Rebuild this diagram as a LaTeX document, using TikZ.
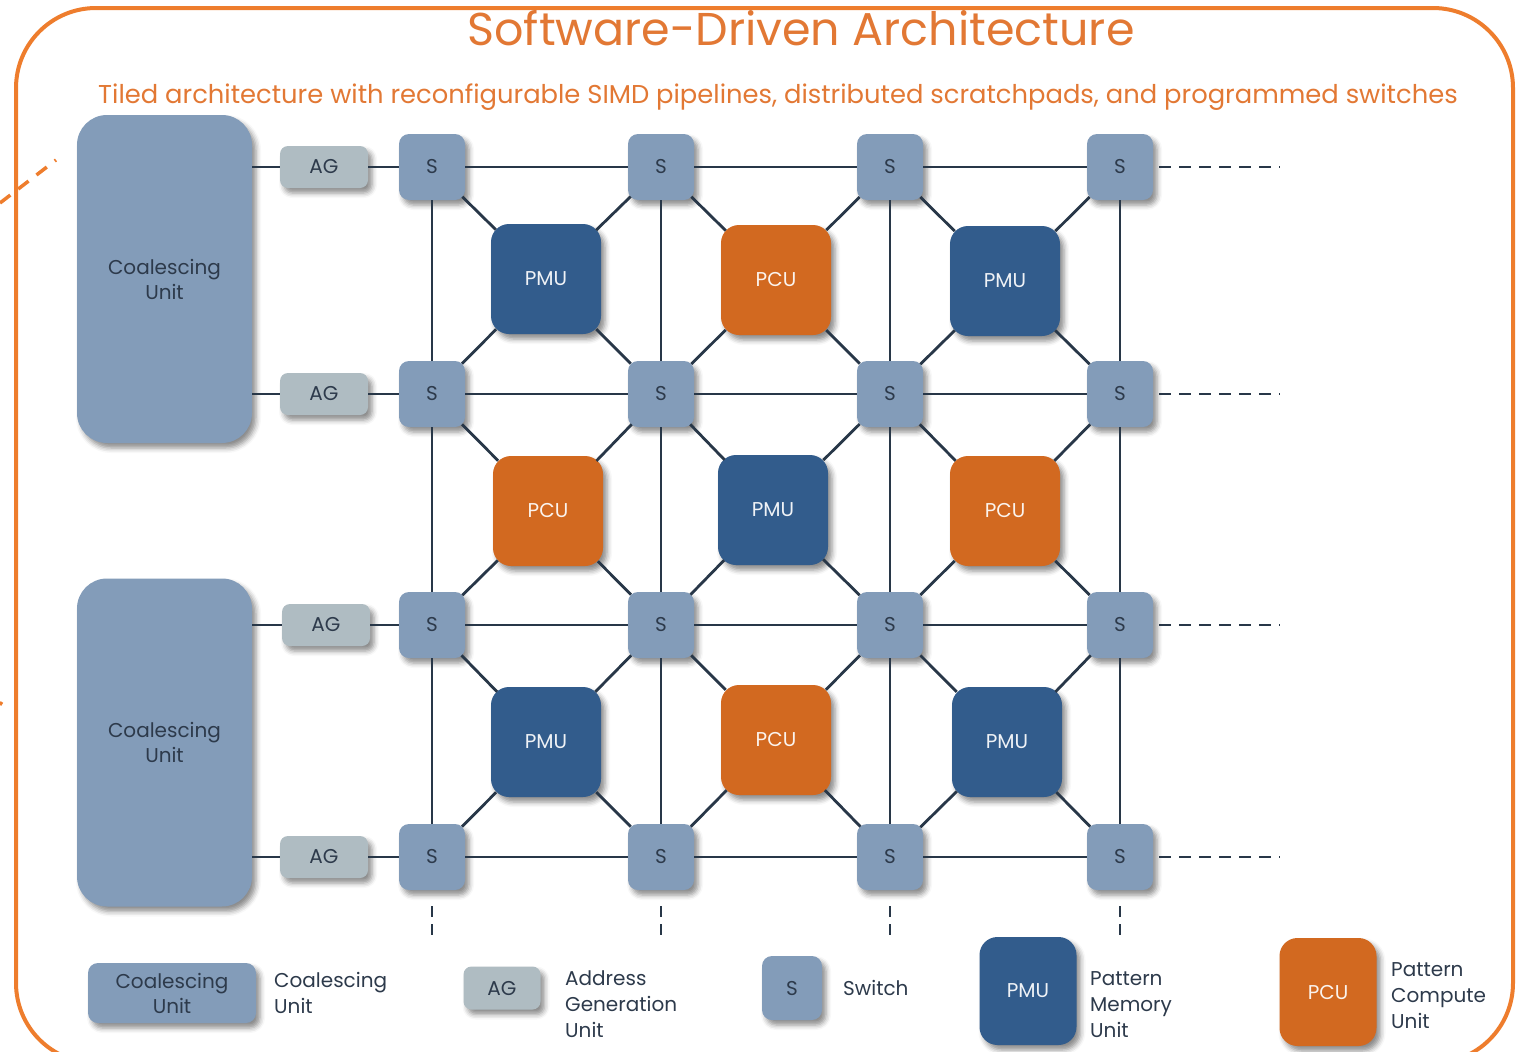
\documentclass[tikz,border=0pt]{standalone}
\usepackage{fontspec}
\setmainfont{Poppins}
\usetikzlibrary{shadows.blur}
\definecolor{frameor}{RGB}{238,125,45}
\definecolor{titleor}{RGB}{226,120,52}
\definecolor{cublue}{RGB}{131,156,185}
\definecolor{aggray}{RGB}{175,188,194}
\definecolor{pmublue}{RGB}{50,92,140}
\definecolor{pcuor}{RGB}{210,105,32}
\definecolor{linec}{RGB}{40,55,72}
\definecolor{txtc}{RGB}{45,58,75}
\begin{document}
\begin{tikzpicture}[x=1pt,y=-1pt,
 sh/.style={blur shadow={shadow xshift=4pt,shadow yshift=-5pt,shadow blur radius=5pt,shadow opacity=45}},
 cubox/.style={sh,fill=cublue,rounded corners=30pt,minimum width=175pt,minimum height=328pt,text=txtc,align=center,font=\fontsize{20}{25}\selectfont,inner sep=0pt},
 agbox/.style={sh,fill=aggray,rounded corners=8pt,minimum width=88pt,minimum height=42pt,text=txtc,font=\fontsize{20}{24}\selectfont,inner sep=0pt},
 swbox/.style={sh,fill=cublue,rounded corners=10pt,minimum width=66pt,minimum height=66pt,text=txtc,font=\fontsize{20}{24}\selectfont,inner sep=0pt},
 pmubox/.style={sh,fill=pmublue,rounded corners=18pt,minimum width=110pt,minimum height=110pt,text=white!92!pmublue,font=\fontsize{20}{24}\selectfont,inner sep=0pt},
 pcubox/.style={pmubox,fill=pcuor,text=white!92!pcuor},
 link/.style={draw=linec,line width=2.8pt},
 diag/.style={link,shorten <=-7pt,shorten >=-4pt},
 dlink/.style={link,dash pattern=on 12pt off 8pt},
 lbl/.style={anchor=west,align=left,text=txtc,font=\fontsize{20}{26}\selectfont,inner sep=0pt}
]
\useasboundingbox (0,0) rectangle (1529,1052);
% frame
\draw[frameor,line width=4pt,rounded corners=80pt] (16,8) rectangle (1513,1063);
\draw[frameor,line width=3.5pt,dash pattern=on 13pt off 10pt] (0,203) -- (56,160);
\draw[frameor,line width=3pt] (0,705) -- (2,702);
% titles
\node[anchor=base,text=titleor,font=\fontsize{46}{56}\selectfont,inner sep=0pt] (title) at (801,45) {Software-Driven Architecture};
\node[anchor=base,text=titleor,font=\fontsize{25.8}{30}\selectfont,inner sep=0pt] (subtitle) at (778,103) {Tiled architecture with reconfigurable SIMD pipelines, distributed scratchpads, and programmed switches};
% coalescing units
\node[cubox] (cu1) at (164.5,279) {Coalescing\\Unit};
\node[cubox] (cu2) at (164.5,742.5) {Coalescing\\Unit};
% address generators
\node[agbox] (a1) at (324,167) {AG};
\node[agbox] (a2) at (324,394) {AG};
\node[agbox] (a3) at (326,625) {AG};
\node[agbox] (a4) at (324,857) {AG};
% switches
\foreach \cc/\xx in {1/432,2/661,3/890,4/1120}
  \foreach \rr/\yy in {1/167,2/394,3/625,4/857}
    \node[swbox] (s\rr\cc) at (\xx,\yy) {S};
% PMU / PCU
\node[pmubox] (u11) at (546,279) {PMU};
\node[pcubox] (u12) at (776,280) {PCU};
\node[pmubox] (u13) at (1005,281) {PMU};
\node[pcubox] (u21) at (548,511) {PCU};
\node[pmubox] (u22) at (773,510) {PMU};
\node[pcubox] (u23) at (1005,511) {PCU};
\node[pmubox] (u31) at (546,742) {PMU};
\node[pcubox] (u32) at (776,740) {PCU};
\node[pmubox] (u33) at (1007,742) {PMU};
% free ends
\foreach \rr/\yy in {1/167,2/394,3/625,4/857}
  \coordinate (e\rr) at (1280,\yy);
\foreach \cc/\xx in {1/432,2/661,3/890,4/1120}
  \coordinate (v\cc) at (\xx,936);
% links
\foreach \rr in {1,2,3,4}
  \draw[link] (a\rr) -- (s\rr1) -- (s\rr2) -- (s\rr3) -- (s\rr4);
\draw[link] (a1.west) -- (a1.west -| cu1.east);
\draw[link] (a2.west) -- (a2.west -| cu1.east);
\draw[link] (a3.west) -- (a3.west -| cu2.east);
\draw[link] (a4.west) -- (a4.west -| cu2.east);
\foreach \cc in {1,2,3,4}
  \draw[link] (s1\cc) -- (s2\cc) -- (s3\cc) -- (s4\cc);
\foreach \rr/\rn in {1/2,2/3,3/4}
  \foreach \cc/\cn in {1/2,2/3,3/4} {
    \draw[diag] (u\rr\cc) -- (s\rr\cc);
    \draw[diag] (u\rr\cc) -- (s\rr\cn);
    \draw[diag] (u\rr\cc) -- (s\rn\cc);
    \draw[diag] (u\rr\cc) -- (s\rn\cn);
  }
\foreach \rr in {1,2,3,4}
  \draw[dlink,dash phase=-6pt] (s\rr4.east) -- (e\rr);
\foreach \cc in {1,2,3,4}
  \draw[link,dash pattern=on 11pt off 7pt] ([yshift=-16pt]s4\cc.south) -- (v\cc);
% legend
\node[cubox,minimum width=168pt,minimum height=60pt,rounded corners=10pt] (lcu) at (172,993) {Coalescing\\Unit};
\node[lbl] (lcut) at (274,993) {Coalescing\\Unit};
\node[agbox,minimum width=77pt,minimum height=43pt] (lag) at (502,988) {AG};
\node[lbl] (lagt) at (565,1004) {Address\\Generation\\Unit};
\node[swbox,minimum width=60pt,minimum height=64pt] (lsw) at (792,988) {S};
\node[lbl] (lswt) at (843,988) {Switch};
\node[pmubox,minimum width=97pt,minimum height=108pt] (lpmu) at (1028,991) {PMU};
\node[lbl] (lpmut) at (1090,1005) {Pattern\\Memory\\Unit};
\node[pcubox,minimum width=97pt,minimum height=108pt] (lpcu) at (1328,992) {PCU};
\node[lbl] (lpcut) at (1391,996) {Pattern\\Compute\\Unit};
\end{tikzpicture}
\end{document}
